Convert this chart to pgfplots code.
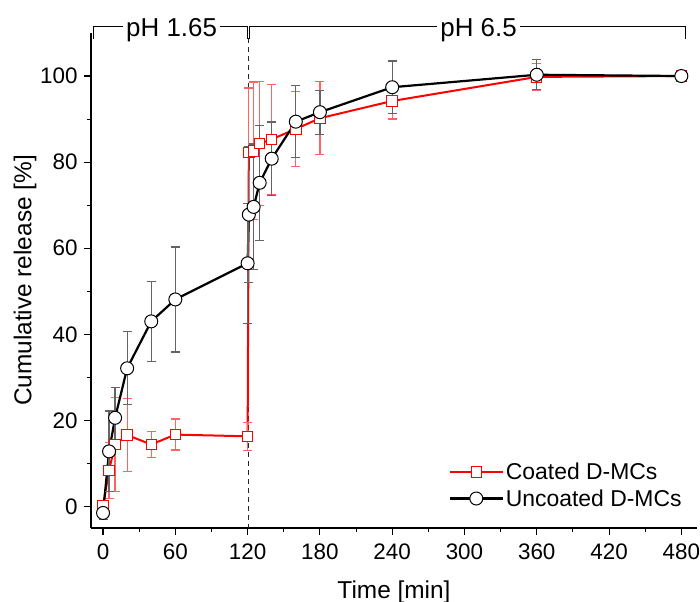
\documentclass[border=0pt]{standalone}
\usepackage{fontspec}
\setmainfont{Liberation Sans}
\usepackage{pgfplots}
\pgfplotsset{compat=1.18}
\definecolor{errred}{RGB}{255,100,100}
\definecolor{errgray}{RGB}{100,100,100}
\begin{document}
\begin{tikzpicture}
\useasboundingbox (-91bp,-74bp) rectangle (609bp,528bp);
\begin{axis}[
  at={(0,0)}, anchor=south west,
  scale only axis, width=606bp, height=495bp,
  xmin=-10, xmax=493, ymin=-5, ymax=110,
  axis x line*=bottom, axis y line*=left,
  axis line style={line width=1.3bp},
  tick align=outside,
  major tick length=7bp, minor tick length=4bp,
  tick style={black, line width=1.1bp},
  xtick={0,60,...,480}, ytick={0,20,...,100},
  minor x tick num=1, minor y tick num=1,
  ticklabel style={font=\fontsize{22.5}{26}\selectfont},
  xticklabel style={yshift=-5bp},
  yticklabel style={xshift=-3bp},
  /pgf/number format/assume math mode=true,
  xlabel={Time [min]}, ylabel={Cumulative release [\%]},
  label style={font=\fontsize{24.5}{28}\selectfont},
  xlabel style={at={([yshift=-64bp]axis description cs:0.5,0)}, anchor=center},
  ylabel style={at={([xshift=-66bp]axis description cs:0,0.5)}, anchor=center},
  clip=false,
  legend style={draw=none, fill=none, font=\fontsize{23}{27}\selectfont,
    at={(0.585,0.14)}, anchor=north west, row sep=4.5bp},
  legend cell align=left,
  legend image code/.code={\draw[mark repeat=2,mark phase=2] plot coordinates {(0bp,0bp) (26.5bp,0bp) (53bp,0bp)};},
]
\draw[dash pattern=on 5bp off 4bp, line width=0.9bp, black!85] (axis cs:120.3,108.8) -- (axis cs:120.3,-5);

\addplot[red, line width=2bp, mark=square*, mark size=5.2bp,
  mark options={fill=white, draw=red, line width=1bp, solid},
  error bars/.cd, y dir=both, y explicit,
  error bar style={errred, line width=1.2bp},
  error mark options={rotate=90, mark size=4.5bp, line width=1.2bp, errred}]
  table[x=t, y=y, y error=e] {
t y e
0 0.2 1.0
5 8.4 6.5
10 14.4 11
20 16.6 8.4
40 14.4 3.1
60 16.7 3.6
120 16.3 3.3
121 82.2 15
125 82.6 16
130 84.3 14.4
140 85.3 12.8
160 87.7 8.8
180 90.2 8.5
240 94.2 4.2
360 99.8 3.2
480 100.0 0.5
};
\addlegendentry{Coated D-MCs}

\addplot[black, line width=2.2bp, mark=*, mark size=6.5bp,
  mark options={fill=white, draw=black, line width=1bp, solid},
  error bars/.cd, y dir=both, y explicit,
  error bar style={errgray, line width=1.2bp},
  error mark options={rotate=90, mark size=4.5bp, line width=1.2bp, errgray}]
  table[x=t, y=y, y error=e] {
t y e
0 -1.5 1.5
5 12.8 9.4
10 20.6 7.0
20 32.1 8.5
40 43.0 9.3
60 48.1 12.2
120 56.5 13.9
121 67.8 15.8
125 69.6 14.6
130 75.2 13.4
140 80.8 8.5
160 89.4 8.4
180 91.6 5.1
240 97.4 6.1
360 100.3 3.5
480 100.0 0.5
};
\addlegendentry{Uncoated D-MCs}

\draw[line width=1bp] (axis cs:-7.6,108.6) -- (axis cs:-7.6,111.5) -- (axis cs:120.3,111.5) -- (axis cs:120.3,108.6);
\draw[line width=1bp] (axis cs:121.3,108.6) -- (axis cs:121.3,111.5) -- (axis cs:483.5,111.5) -- (axis cs:483.5,108.6);
\node[fill=white, inner xsep=3.5bp, inner ysep=0pt, anchor=base, font=\fontsize{26}{30}\selectfont] at ([yshift=-9.5bp]axis cs:56.9,111.5) {pH 1.65};
\node[fill=white, inner xsep=3.5bp, inner ysep=0pt, anchor=base, font=\fontsize{26}{30}\selectfont] at ([yshift=-9.5bp]axis cs:311.7,111.5) {pH 6.5};
\end{axis}
\end{tikzpicture}
\end{document}
